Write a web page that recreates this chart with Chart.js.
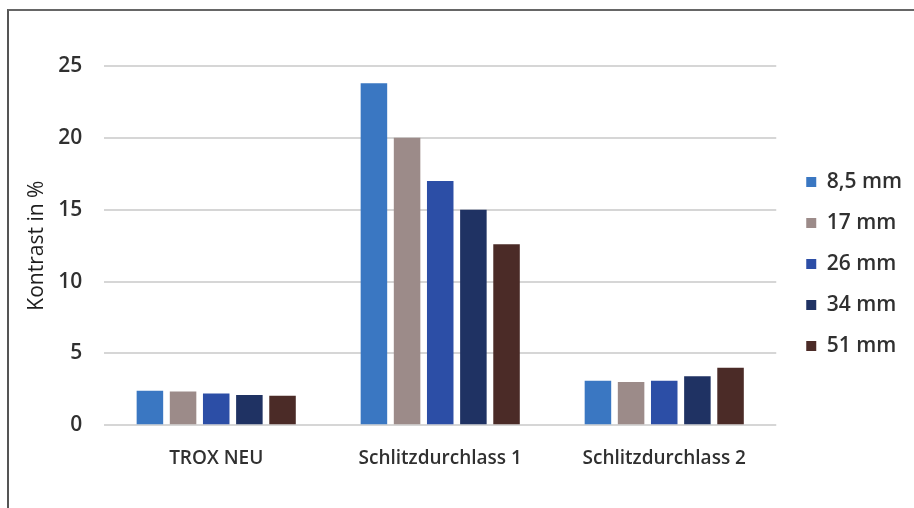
<!DOCTYPE html>
<html>
<head>
<meta charset="utf-8">
<script src="https://cdn.jsdelivr.net/npm/chart.js@4.4.1/dist/chart.umd.min.js"></script>
<style>
  html, body { margin: 0; padding: 0; background: #fff; }
  #wrap { position: relative; width: 914px; height: 508px; overflow: hidden; }
  #frame {
    position: absolute; left: 7px; top: 9px; width: 1000px; height: 600px;
    border-left: 2px solid #555; border-top: 2px solid #666;
  }
  canvas { position: absolute; left: 0; top: 0; }
</style>
</head>
<body>
<div id="wrap">
  <div id="frame"></div>
  <canvas id="chart" width="914" height="508"></canvas>
</div>
<script>
// Kontrast je Auslass und Abstand
const categories = ['TROX NEU', 'Schlitzdurchlass 1', 'Schlitzdurchlass 2'];
const seriesNames = ['8,5 mm', '17 mm', '26 mm', '34 mm', '51 mm'];
const values85 = [2.4, 23.8, 3.1];
const values17 = [2.35, 20.0, 3.0];
const values26 = [2.2, 17.0, 3.1];
const values34 = [2.1, 15.0, 3.4];
const values51 = [2.05, 12.6, 4.0];
const yTicks = [0, 5, 10, 15, 20, 25];

const COLORS = ['#3a77c2', '#9c8b89', '#2c4ea6', '#1f3263', '#4b2b27'];
const FONT = '"Open Sans", Lato, sans-serif';
const TEXT = '#303030';

const seriesValues = [values85, values17, values26, values34, values51];

const ctx = document.getElementById('chart').getContext('2d');
new Chart(ctx, {
  type: 'bar',
  data: {
    labels: categories,
    datasets: seriesNames.map((name, i) => ({
      label: name,
      data: seriesValues[i],
      backgroundColor: COLORS[i],
      barPercentage: 0.8,
      categoryPercentage: 0.74
    }))
  },
  options: {
    responsive: false,
    animation: false,
    layout: { padding: { left: 10, top: 66, right: 2, bottom: 24 } },
    plugins: {
      legend: {
        position: 'right',
        align: 'center',
        fullSize: false,
        // empty title only pushes the entries down a little
        title: { display: true, text: ' ', padding: { top: 6, bottom: 7 }, font: { size: 20 } },
        labels: {
          boxWidth: 10,
          boxHeight: 10,
          padding: 20,
          color: TEXT,
          font: { family: FONT, size: 21, weight: '600' }
        }
      },
      tooltip: { enabled: false }
    },
    scales: {
      x: {
        grid: { display: false },
        border: { display: false },
        ticks: {
          color: TEXT,
          padding: 14,
          font: { family: FONT, size: 19, weight: '600' }
        }
      },
      y: {
        min: 0,
        max: 25,
        afterBuildTicks: axis => { axis.ticks = yTicks.map(v => ({ value: v })); },
        grid: { color: '#d6d6d6', lineWidth: 2, drawTicks: false },
        border: { display: false },
        ticks: {
          color: TEXT,
          padding: 22,
          font: { family: FONT, size: 21, weight: '600' }
        },
        title: {
          display: true,
          text: 'Kontrast in %',
          color: '#1e1e1e',
          padding: { top: 14, bottom: -13 },
          font: { family: FONT, size: 21 }
        }
      },
      // blank axis: just a gap between plot and legend
      gap: {
        type: 'linear',
        position: 'right',
        display: true,
        grid: { display: false },
        border: { display: false },
        ticks: { display: false },
        afterFit: axis => { axis.width = 10; }
      }
    }
  }
});
</script>
</body>
</html>
